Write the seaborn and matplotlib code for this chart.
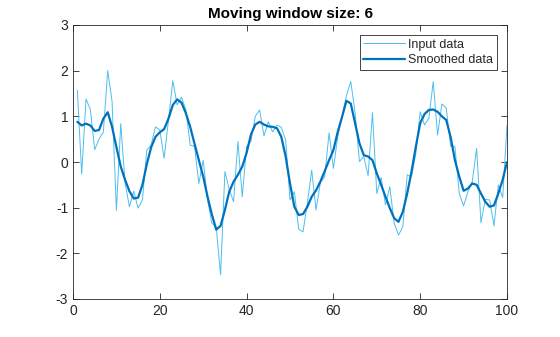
import numpy as np
import pandas as pd
import matplotlib
matplotlib.use("Agg")
import matplotlib.pyplot as plt
import seaborn as sns

x_values = list(range(1, 101))

input_data = [
    1.57, -0.26, 1.38, 1.15, 0.27, 0.50, 0.66, 2.00, 1.33, -1.06,
    0.84, -0.46, -0.98, -0.64, -1.01, -0.83, 0.26, 0.37, 0.77, 0.70,
    0.08, 0.92, 1.78, 1.25, 1.42, 1.14, 0.37, 0.34, -0.47, 0.04,
    -0.83, -1.34, -1.42, -2.47, -0.21, -0.60, -0.87, 0.45, -0.76, 0.34,
    0.45, 1.00, 1.14, 0.57, 0.88, 0.66, 0.81, 0.76, 0.48, -0.83,
    -0.65, -1.47, -1.53, -0.90, -0.18, -1.05, -0.45, -0.32, 0.64, -0.14,
    0.55, 0.99, 1.45, 1.76, 1.08, 0.01, 0.12, -0.30, 1.08, -0.69,
    -0.34, -0.94, -0.54, -1.34, -1.60, -1.42, -0.28, -0.32, 0.19, 1.10,
    0.81, 0.96, 1.76, 0.59, 1.27, 1.18, 0.35, 0.34, -0.69, -0.96,
    -0.65, -0.43, 0.30, -1.33, -0.82, -0.83, -1.40, -0.50, -0.78, 0.81,
]

smoothed_data = [
    0.88, 0.80, 0.84, 0.80, 0.68, 0.70, 0.95, 1.09, 0.77, 0.33,
    -0.10, -0.39, -0.64, -0.80, -0.78, -0.50, -0.05, 0.32, 0.55, 0.65,
    0.72, 0.95, 1.25, 1.37, 1.30, 1.07, 0.77, 0.40, 0.04, -0.32,
    -0.76, -1.15, -1.48, -1.40, -1.05, -0.65, -0.43, -0.28, -0.10, 0.20,
    0.60, 0.82, 0.88, 0.82, 0.78, 0.77, 0.74, 0.55, 0.12, -0.47,
    -0.98, -1.16, -1.14, -0.98, -0.76, -0.62, -0.43, -0.20, 0.04, 0.26,
    0.66, 0.99, 1.34, 1.28, 0.85, 0.41, 0.15, 0.12, 0.04, -0.25,
    -0.50, -0.76, -1.01, -1.23, -1.31, -1.09, -0.69, -0.21, 0.34, 0.85,
    1.05, 1.14, 1.15, 1.10, 1.00, 0.92, 0.55, 0.04, -0.32, -0.63,
    -0.58, -0.47, -0.50, -0.69, -0.87, -0.98, -0.95, -0.69, -0.39, 0.00,
]

x_ticks = [0, 20, 40, 60, 80, 100]
y_ticks = [-3, -2, -1, 0, 1, 2, 3]
title_text = "Moving window size: 6"
labels = ["Input data", "Smoothed data"]

sns.set_style("white")
plt.rcParams['font.family'] = ['Liberation Sans', 'DejaVu Sans']
plt.rcParams['axes.unicode_minus'] = False

fig = plt.figure(figsize=(5.6, 3.37), dpi=100)
ax = fig.add_axes([73/560, 1-299/337, 434/560, 274/337])

df = pd.DataFrame({"x": x_values, "input": input_data, "smooth": smoothed_data})
sns.lineplot(data=df, x="x", y="input", ax=ax, color="#4DBEEE", linewidth=0.7, label=labels[0])
sns.lineplot(data=df, x="x", y="smooth", ax=ax, color="#0072BD", linewidth=1.6, label=labels[1])

ax.set_xlim(0, 100)
ax.set_ylim(-3, 3)
ax.set_xticks(x_ticks)
ax.set_yticks(y_ticks)
ax.set_xlabel("")
ax.set_ylabel("")
ax.set_title(title_text, fontsize=11, fontweight="bold", color="black", pad=5)

axcol = "#262626"
for s in ax.spines.values():
    s.set_visible(True)
    s.set_color(axcol)
    s.set_linewidth(0.6)
ax.tick_params(direction="in", length=4, width=0.6, colors=axcol, labelsize=10,
               top=True, right=True, bottom=True, left=True, labelcolor=axcol)

leg = ax.legend(loc="upper right", frameon=True, fancybox=False, edgecolor=axcol,
                framealpha=1, fontsize=9, handlelength=3.3, handletextpad=0.3,
                borderaxespad=0.8, borderpad=0.3, labelspacing=0.25)
leg.get_frame().set_linewidth(0.6)
for t in leg.get_texts():
    t.set_color(axcol)

fig.savefig("out.png", dpi=100)
